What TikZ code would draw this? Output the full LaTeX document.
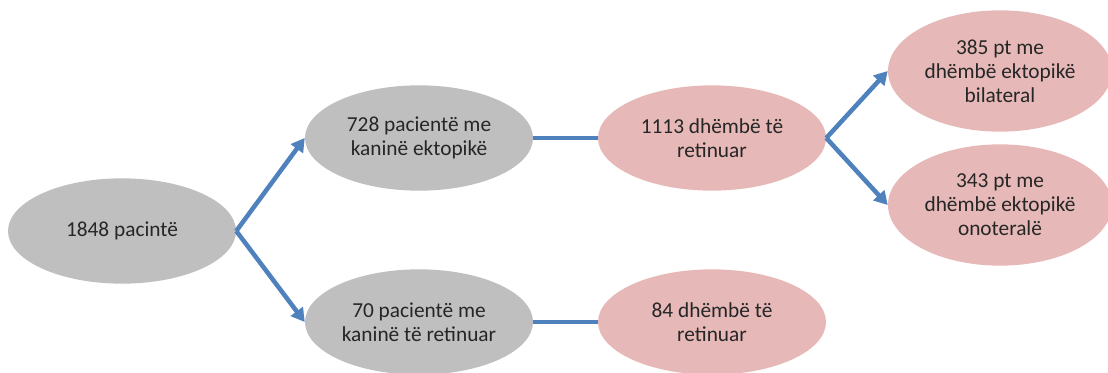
\documentclass[tikz,border=0pt]{standalone}
\usepackage{fontspec}
\setmainfont{Carlito}
\usetikzlibrary{shapes.geometric,arrows.meta}
\definecolor{grayfill}{HTML}{BFBFBF}
\definecolor{pinkfill}{HTML}{E6B9B8}
\definecolor{linkblue}{HTML}{4F81BD}
\tikzset{
  pacient/.style={ellipse, fill=grayfill, inner sep=0pt, minimum width=171pt, minimum height=79pt, align=center, text=black!85, font=\fontsize{16}{18}\selectfont},
  dhembe/.style={ellipse, fill=pinkfill, inner sep=0pt, minimum width=171pt, minimum height=79pt, align=center, text=black!85, font=\fontsize{16}{18}\selectfont},
  link/.style={linkblue, line width=3.4pt},
  linkarrow/.style={link, -{Triangle[length=10pt,width=11pt]}}
}
\begin{document}
\begin{tikzpicture}[x=0.75pt,y=-0.75pt]
                \useasboundingbox (0,0) rectangle (1108,372);

                \node[pacient] (p1848) at (122,231) {1848 pacintë};
                \node[pacient] (p728) at (419,138) {728 pacientë me\\kaninë ektopikë};
                \node[pacient] (p70) at (419,322) {70 pacientë me\\kaninë të retinuar};
                \node[dhembe] (d1113) at (712,138) {1113 dhëmbë të\\retinuar};
                \node[dhembe] (d84) at (712,322) {84 dhëmbë të\\retinuar};
                \node[dhembe, minimum width=168pt, minimum height=91pt] (pt385) at (1000,71) {385 pt me\\dhëmbë ektopikë\\bilateral};
                \node[dhembe, minimum width=168pt, minimum height=91pt] (pt343) at (1000,205) {343 pt me\\dhëmbë ektopikë\\onoteralë};

                \draw[linkarrow] (p1848.east) -- (p728.west);
                \draw[linkarrow] (p1848.east) -- (p70.west);
                \draw[link] (p728.east) -- (d1113.west);
                \draw[link] (p70.east) -- (d84.west);
                \draw[linkarrow] (d1113.east) -- (pt385.west);
                \draw[linkarrow] (d1113.east) -- (pt343.west);
            \end{tikzpicture}
\end{document}
